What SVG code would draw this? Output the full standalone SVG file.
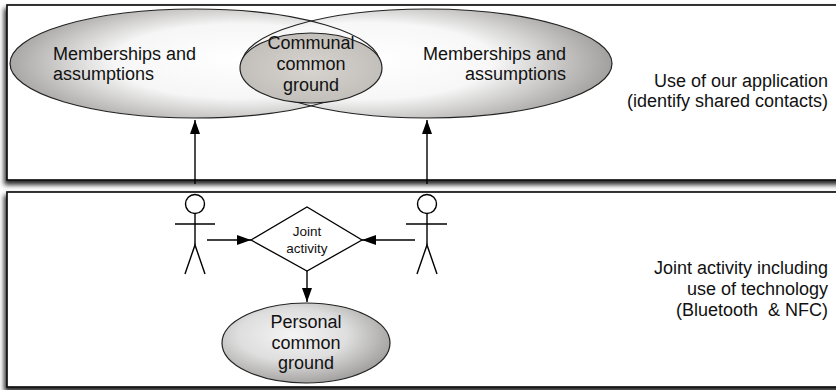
<svg xmlns="http://www.w3.org/2000/svg" width="836" height="390" viewBox="0 0 836 390">
<style>
  text { font-family: "Liberation Sans", Arial, sans-serif; fill: #111; }
  .big { font-size: 18px; }
  .small { font-size: 13.5px; }
  .frame { fill: #fff; stroke: #111; stroke-width: 1.7; }
  .shape { stroke: #222; stroke-width: 1.2; }
  .line { stroke: #000; stroke-width: 1.4; fill: none; }
  .conn { stroke: #000; stroke-width: 1.4; fill: none; marker-end: url(#arrow); }
</style>
<defs>
  <filter id="shadow" x="-5%" y="-10%" width="110%" height="125%">
    <feDropShadow dx="-2" dy="4" stdDeviation="2.5" flood-color="#000" flood-opacity="0.85"/>
  </filter>
  <radialGradient id="gLeft" cx="0.62" cy="0.5" r="0.62" fx="0.62" fy="0.45">
    <stop offset="0" stop-color="#ffffff"/>
    <stop offset="0.55" stop-color="#f6f6f6"/>
    <stop offset="1" stop-color="#a9a7a5"/>
  </radialGradient>
  <radialGradient id="gRight" cx="0.33" cy="0.5" r="0.7" fx="0.33" fy="0.45">
    <stop offset="0" stop-color="#ffffff"/>
    <stop offset="0.5" stop-color="#f7f7f7"/>
    <stop offset="1" stop-color="#9a9896"/>
  </radialGradient>
  <radialGradient id="gInner" cx="0.5" cy="0.5" r="0.6">
    <stop offset="0" stop-color="#d8d4d0"/>
    <stop offset="1" stop-color="#bebab6"/>
  </radialGradient>
  <radialGradient id="gPersonal" cx="0.42" cy="0.4" r="0.65">
    <stop offset="0" stop-color="#f4f4f4"/>
    <stop offset="0.5" stop-color="#dedede"/>
    <stop offset="1" stop-color="#9c9a98"/>
  </radialGradient>
  <marker id="arrow" viewBox="0 0 14 10" refX="14" refY="5" markerWidth="14" markerHeight="10" markerUnits="userSpaceOnUse" orient="auto">
    <path d="M0,0 L14,5 L0,10 Z" fill="#000"/>
  </marker>
</defs>

<g id="frame-top">
  <rect class="frame" x="7" y="5" width="840" height="175" filter="url(#shadow)"/>
</g>
<g id="frame-bottom">
  <rect class="frame" x="7" y="192" width="840" height="195" filter="url(#shadow)"/>
</g>

<g id="ellipse-left">
  <ellipse cx="195" cy="63.5" rx="185" ry="54.5" fill="url(#gLeft)"/>
</g>
<g id="ellipse-right">
  <ellipse cx="427" cy="63.5" rx="185" ry="54.5" fill="url(#gRight)"/>
</g>
<g id="ellipse-outlines">
  <ellipse cx="195" cy="63.5" rx="185" ry="54.5" fill="none" class="shape"/>
  <ellipse cx="427" cy="63.5" rx="185" ry="54.5" fill="none" class="shape"/>
</g>
<g id="label-left">
  <text class="big" x="53" y="60">Memberships and</text>
  <text class="big" x="53" y="80">assumptions</text>
</g>
<g id="label-right">
  <text class="big" x="566" y="60" text-anchor="end">Memberships and</text>
  <text class="big" x="566" y="80" text-anchor="end">assumptions</text>
</g>
<g id="communal">
  <ellipse class="shape" cx="311" cy="68" rx="71" ry="35" fill="url(#gInner)"/>
  <text class="big" x="311" y="49" text-anchor="middle">Communal</text>
  <text class="big" x="311" y="70" text-anchor="middle">common</text>
  <text class="big" x="311" y="91" text-anchor="middle">ground</text>
</g>

<g id="note-top">
  <text class="big" x="828" y="87" text-anchor="end">Use of our application</text>
  <text class="big" x="828" y="107" text-anchor="end">(identify shared contacts)</text>
</g>

<g id="actor-left">
  <circle class="line" cx="195" cy="204" r="9.5"/>
  <line class="line" x1="195" y1="213.5" x2="195" y2="245"/>
  <line class="line" x1="175" y1="224" x2="215" y2="224"/>
  <polyline class="line" points="185,274 195,245 205,274"/>
</g>
<g id="actor-right">
  <circle class="line" cx="427" cy="204" r="9.5"/>
  <line class="line" x1="427" y1="213.5" x2="427" y2="245"/>
  <line class="line" x1="406" y1="224" x2="447" y2="224"/>
  <polyline class="line" points="417,274 427,245 437,274"/>
</g>

<g id="joint-activity">
  <polygon points="251,240 307,207 362,240 307,271" fill="#fff" stroke="#000" stroke-width="1.3"/>
  <text class="small" x="307" y="236" text-anchor="middle">Joint</text>
  <text class="small" x="307" y="253" text-anchor="middle">activity</text>
</g>

<g id="personal">
  <ellipse class="shape" cx="306" cy="343" rx="84" ry="40" fill="url(#gPersonal)"/>
  <text class="big" x="306" y="328" text-anchor="middle">Personal</text>
  <text class="big" x="306" y="348.5" text-anchor="middle">common</text>
  <text class="big" x="306" y="369" text-anchor="middle">ground</text>
</g>

<g id="note-bottom">
  <text class="big" x="828" y="274" text-anchor="end">Joint activity including</text>
  <text class="big" x="828" y="295" text-anchor="end">use of technology</text>
  <text class="big" x="828" y="316" text-anchor="end" xml:space="preserve">(Bluetooth  &amp; NFC)</text>
</g>

<g id="connectors">
  <line class="conn" x1="195" y1="184" x2="195" y2="120"/>
  <line class="conn" x1="427" y1="184" x2="427" y2="120"/>
  <line class="conn" x1="207" y1="240" x2="251" y2="240"/>
  <line class="conn" x1="415" y1="240" x2="362" y2="240"/>
  <line class="conn" x1="307" y1="271" x2="307" y2="302"/>
</g>
</svg>
